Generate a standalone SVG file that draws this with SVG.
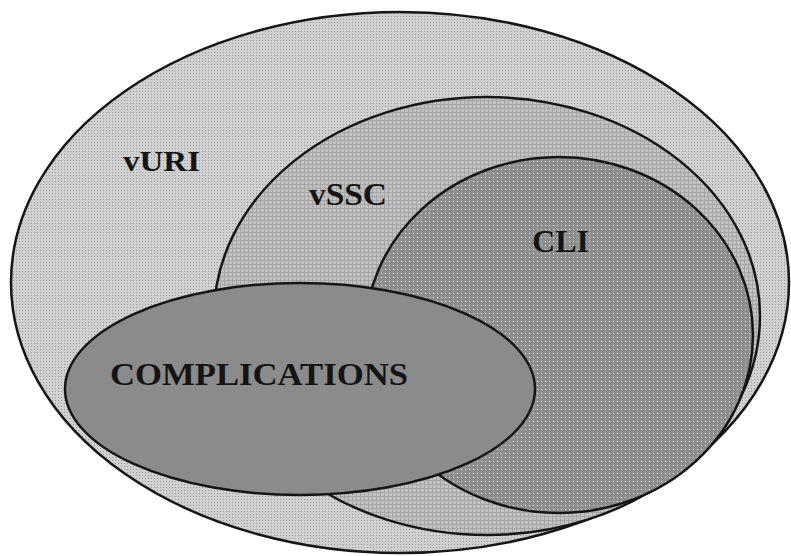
<svg xmlns="http://www.w3.org/2000/svg" width="791" height="556" viewBox="0 0 791 556">
<defs>
<pattern id="pURI" width="3" height="3" patternUnits="userSpaceOnUse">
<rect width="3" height="3" fill="#d0d0d0"/>
<rect x="1" y="1" width="1" height="1" fill="#9a9a9a"/>
</pattern>
<pattern id="pSSC" width="4" height="4" patternUnits="userSpaceOnUse">
<rect width="4" height="4" fill="#c2c2c2"/>
<rect x="0" y="0" width="4" height="1" fill="#a6a6a6"/>
<rect x="0" y="0" width="1" height="4" fill="#a6a6a6"/>
</pattern>
<pattern id="pCLI" width="4" height="4" patternUnits="userSpaceOnUse">
<rect width="4" height="4" fill="#8e8e8e"/>
<rect x="1" y="1" width="1" height="1" fill="#e6e6e6"/>
</pattern>
</defs>
<style>
.set{stroke:#161616;stroke-width:2.5}
.lbl{font-family:"Liberation Serif","Times New Roman",serif;font-weight:bold;fill:#141414}
</style>
<rect width="791" height="556" fill="#ffffff"/>
<g id="vURI">
<ellipse class="set" cx="400" cy="282.5" rx="389" ry="270.5" fill="url(#pURI)"/>
<text class="lbl" x="123" y="171" font-size="29" textLength="77" lengthAdjust="spacingAndGlyphs">vURI</text>
</g>
<g id="vSSC">
<ellipse class="set" cx="487" cy="316" rx="273" ry="219" fill="url(#pSSC)"/>
<text class="lbl" x="309" y="205" font-size="31" textLength="78" lengthAdjust="spacingAndGlyphs">vSSC</text>
</g>
<g id="CLI">
<ellipse class="set" cx="559" cy="335" rx="194" ry="178" fill="url(#pCLI)"/>
<text class="lbl" x="532" y="252" font-size="31" textLength="57" lengthAdjust="spacingAndGlyphs">CLI</text>
</g>
<g id="COMPLICATIONS">
<ellipse class="set" cx="300" cy="389" rx="235" ry="106" fill="#8b8b8b"/>
<text class="lbl" x="110" y="385" font-size="32" textLength="298" lengthAdjust="spacingAndGlyphs">COMPLICATIONS</text>
</g>
<g id="connectors"/>
</svg>
